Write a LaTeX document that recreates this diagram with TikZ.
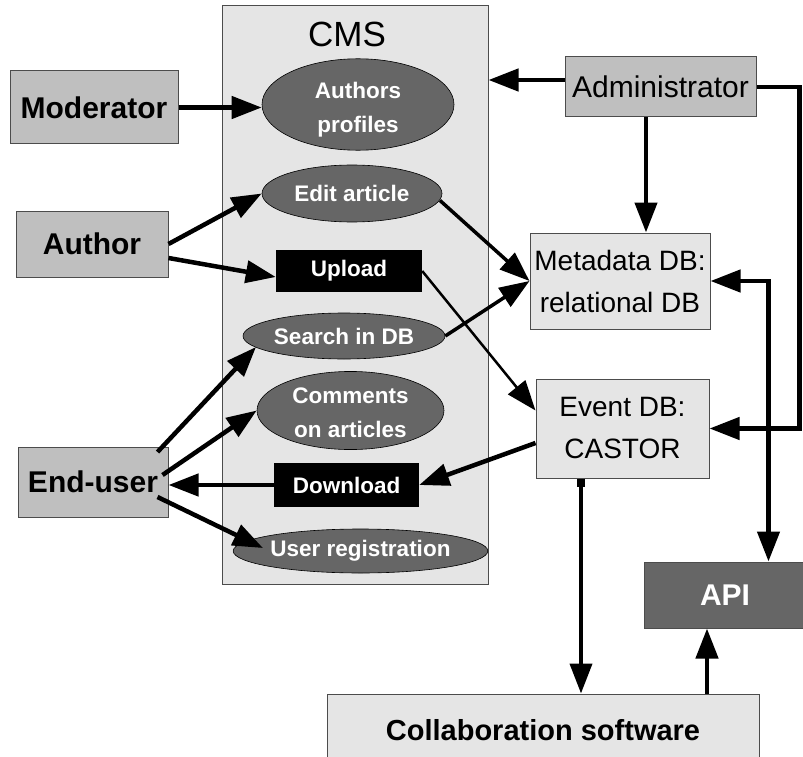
\documentclass[tikz,border=0pt]{standalone}
\usepackage{fontspec}
\setmainfont{Liberation Sans}
\usetikzlibrary{arrows.meta,calc,shapes.geometric}
\definecolor{actorgray}{gray}{0.75}
\definecolor{lightgray}{gray}{0.9}
\definecolor{darkgray}{gray}{0.4}
\definecolor{edgegray}{gray}{0.3}
\begin{document}
\begin{tikzpicture}[x=1pt,y=-1pt,
  actorbox/.style={draw=edgegray,line width=1pt,fill=actorgray,inner sep=0pt,
    font=\fontsize{30}{36}\selectfont\bfseries},
  adminbox/.style={draw=edgegray,line width=1pt,fill=actorgray,inner sep=0pt,
    font=\fontsize{30}{36}\selectfont},
  dbbox/.style={draw=edgegray,line width=1pt,fill=lightgray,inner sep=0pt,align=center,
    font=\fontsize{28}{42}\selectfont},
  usecase/.style={ellipse,draw=black,line width=0.6pt,fill=darkgray,inner sep=0pt,align=center,
    text=white,font=\fontsize{22.5}{34}\selectfont\bfseries},
  blackbox/.style={rectangle,fill=black,inner sep=0pt,text=white,
    font=\fontsize{22.5}{34}\selectfont\bfseries},
  tipshape/.style={-{Triangle[length=30pt,width=22pt]}},
  arr/.style={line width=4.5pt,tipshape},
  thinarr/.style={line width=3.5pt,tipshape},
  thinnerarr/.style={line width=2.5pt,tipshape},
]
\useasboundingbox (0,0) rectangle (803,757);

% CMS frame
\node[draw=edgegray,line width=1pt,fill=lightgray,minimum width=266pt,minimum height=578pt,inner sep=0pt] (cms) at (355,295) {};
\node[font=\fontsize{35}{40}\selectfont,inner sep=0pt] (cmslabel) at (347,34.5) {CMS};

% actors
\node[actorbox,minimum width=168pt,minimum height=73pt] (mod) at (94,107.5) {Moderator};
\node[actorbox,minimum width=152pt,minimum height=66pt] (au) at (92,244) {Author};
\node[actorbox,minimum width=150pt,minimum height=70pt] (eu) at (93,482) {End-user};
\node[adminbox,minimum width=191pt,minimum height=60pt] (adm) at (660.5,87) {Administrator};

% databases
\node[dbbox,minimum width=180pt,minimum height=96pt] (md) at (620,281) {Metadata DB:\\relational DB};
\node[dbbox,minimum width=173pt,minimum height=99pt] (ev) at (622.5,428.5) {Event DB:\\CASTOR};
\node[draw=edgegray,line width=1pt,fill=darkgray,minimum width=162pt,minimum height=66pt,inner sep=0pt,
  text=white,font=\fontsize{30}{36}\selectfont\bfseries] (api) at (725,595) {API};
\node[draw=edgegray,line width=1pt,fill=lightgray,minimum width=432pt,minimum height=72pt,inner sep=0pt,
  font=\fontsize{29}{36}\selectfont\bfseries] (co) at (543,730) {Collaboration software};

% use cases
\node[usecase,minimum width=192pt,minimum height=65pt,text height=60pt] (ap) at (358,104.5) {Authors\\profiles};
\node[usecase,minimum width=180pt,minimum height=57pt] (ea) at (352,193.5) {Edit article};
\node[blackbox,minimum width=146pt,minimum height=42pt] (up) at (349,271) {Upload};
\node[usecase,minimum width=202pt,minimum height=46pt] (sd) at (344,336) {Search in DB};
\node[usecase,minimum width=187pt,minimum height=65pt,text height=55pt] (cm) at (350.5,410.5) {Comments\\on articles};
\node[blackbox,minimum width=145pt,minimum height=44pt] (dl) at (346.5,485) {Download};
\node[usecase,minimum width=205pt,minimum height=44pt] (ur) at (360.5,551) {User registration};

% helper coordinates
\coordinate (admw) at ($(adm.west)+(0,-7)$);
\coordinate (adms) at ($(adm.south)+(-14.5,0)$);
\coordinate (apin) at ($(api.north west)+(125,0)$);
\coordinate (evs) at ($(ev.south)+(-41.5,0)$);
\coordinate (apib) at ($(api.south)+(-18,0)$);
\coordinate (eaout) at ($(ea.center)+(88,7)$);
\coordinate (sdin) at ($(sd.center)+(-88,11)$);
\coordinate (urin) at ($(ur.center)+(-97.5,-3)$);

% connectors
\draw[arr] (mod.east) -- (mod.east -| ap.west);
\draw[arr] (admw) -- (admw -| cms.east);
\draw[arr] (adms) -- (adms |- md.north);
\draw[arr] (adm.east) -- ++(43,0) |- (ev.east);
\draw[line width=4.5pt,{Triangle[length=30pt,width=22pt]}-{Triangle[length=30pt,width=22pt]}]
  (md.east) -| (apin);

\draw[arr] (au.east) -- (ea.west);
\draw[arr] ($(au.east)+(0,14)$) -- ($(up.west)+(0,6)$);
\draw[thinarr] (eaout) -- (md.west);
\draw[thinarr] (sd.east) -- (md.west);
\draw[thinnerarr] (up.east) -- ($(ev.west)+(0,-18)$);
\draw[arr] ($(ev.west)+(0,14.5)$) -- (dl.east);
\draw[arr] (dl.west) -- (dl.west -| eu.east);

\draw[arr] ($(eu.east)+(-11,-30)$) -- (sdin);
\draw[arr] ($(eu.east)+(-6,-7)$) -- (cm.west);
\draw[arr] ($(eu.east)+(-11,15)$) -- (urin);

\draw[line width=4pt,{Square[length=8pt,width=8pt]}-{Triangle[length=30pt,width=22pt]}]
  (evs) -- (evs |- co.north);
\draw[arr] (apib |- co.north) -- (apib);
\end{tikzpicture}
\end{document}
